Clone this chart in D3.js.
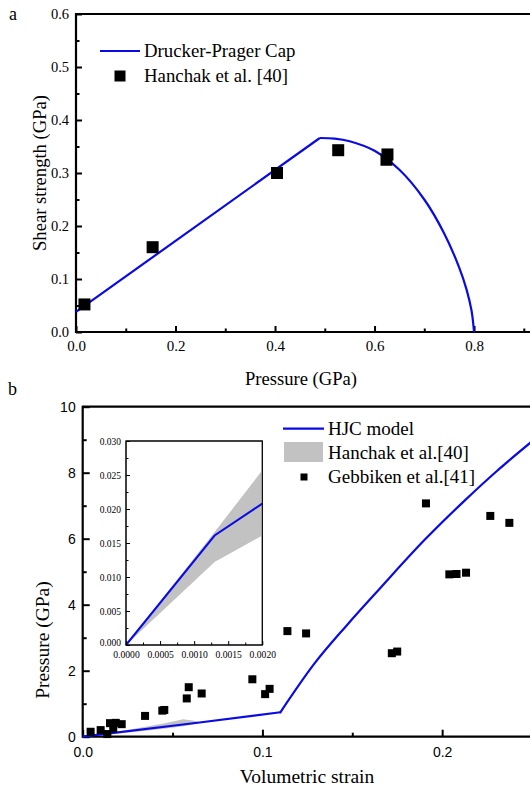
<html>
<head>
<title>Drucker-Prager / HJC</title>
<script src="https://d3js.org/d3.v7.min.js"></script>
<style>
    body { margin: 0; background: #fff; }
    svg { display: block; }
    .serif { font-family: "Liberation Serif", "Times New Roman", Times, Tinos, "DejaVu Serif", "Noto Serif", serif; }
    .sans { font-family: "Liberation Sans", Arial, Helvetica, sans-serif; }
</style>
</head>
<body>
<div id="chart"></div>
<script type="text/javascript">
    // ---- data ----
    // (a) Drucker-Prager: straight shear branch, then the elliptic cap
    var shearP = [0.0, 0.49];
    var shearQ = [0.038, 0.366];
    var capP   = [0.49, 0.52, 0.55, 0.60, 0.65, 0.70, 0.74, 0.77, 0.785, 0.795, 0.80];
    var capQ   = [0.366, 0.365, 0.360, 0.342, 0.306, 0.250, 0.186, 0.122, 0.080, 0.040, 0.0];
    var hanchakP = [0.017, 0.154, 0.404, 0.527, 0.624, 0.626];
    var hanchakQ = [0.052, 0.160, 0.300, 0.343, 0.325, 0.335];

    // (b) HJC model, volumetric strain vs pressure (GPa)
    // elastic part up to the kink, then the compaction curve
    var hjcStrain   = [0.0, 0.065, 0.110];
    var hjcPressure = [0.0, 0.43, 0.74];
    var hjcStrain2   = [0.110, 0.129, 0.147, 0.1655, 0.190, 0.2128, 0.230, 0.25];
    var hjcPressure2 = [0.74, 2.22, 3.38, 4.50, 5.95, 7.17, 8.03, 8.95];
    // Hanchak band
    var bandStrain = [0.0, 0.020, 0.035, 0.045, 0.056, 0.062, 0.066];
    var bandLow    = [0.0, 0.10, 0.18, 0.24, 0.32, 0.38, 0.43];
    var bandHigh   = [0.0, 0.16, 0.30, 0.40, 0.53, 0.48, 0.43];
    // Gebbiken points
    var gebStrain = [0.0044, 0.010, 0.0137, 0.0152, 0.0184, 0.017, 0.0217, 0.0347, 0.0443, 0.0454,
                     0.0579, 0.059, 0.0662, 0.0944, 0.1015, 0.104, 0.1139, 0.1243, 0.172, 0.175,
                     0.191, 0.204, 0.208, 0.2133, 0.2268, 0.2374];
    var gebPressure = [0.15, 0.20, 0.08, 0.41, 0.42, 0.25, 0.38, 0.63, 0.79, 0.81,
                       1.16, 1.50, 1.31, 1.74, 1.29, 1.45, 3.20, 3.13, 2.53, 2.58,
                       7.07, 4.92, 4.93, 4.97, 6.69, 6.48];

    // inset (small strain)
    var insetStrain   = [0.0, 0.0013, 0.0020];
    var insetPressure = [0.0, 0.0161, 0.0208];
    var insetLow      = [0.0, 0.0122, 0.0161];
    var insetHigh     = [0.0, 0.0166, 0.0257];

    // tick values
    var ticksAx = [0, 0.2, 0.4, 0.6, 0.8];
    var ticksAxMinor = [0.1, 0.3, 0.5, 0.7, 0.9];
    var ticksAy = [0, 0.1, 0.2, 0.3, 0.4, 0.5, 0.6];
    var ticksAyMinor = [0.05, 0.15, 0.25, 0.35, 0.45, 0.55];
    var ticksBx = [0, 0.1, 0.2];
    var ticksBxMinor = [0.05, 0.15, 0.25];
    var ticksBy = [0, 2, 4, 6, 8, 10];
    var ticksByMinor = [1, 3, 5, 7, 9];
    var ticksIx = [0, 0.0005, 0.001, 0.0015, 0.002];
    var ticksIxMinor = [0.00025, 0.00075, 0.00125, 0.00175];
    var ticksIy = [0, 0.005, 0.01, 0.015, 0.02, 0.025, 0.03];
    var ticksIyMinor = [0.0025, 0.0075, 0.0125, 0.0175, 0.0225, 0.0275];

    var BLUE = "#0a0ae6";

    var svg = d3.select("#chart").append("svg")
        .attr("width", 530)
        .attr("height", 790);

    function zip(a, b) { return a.map(function(v, i) { return [v, b[i]]; }); }

    // inward ticks (major + minor); font given as a css class
    function addAxis(g, axisFn, scale, major, minor, fmt, len, minorLen, pad, cls, size, strokeW) {
        g.append("g").call(axisFn(scale).tickValues(minor).tickFormat("").tickSizeInner(-minorLen).tickSizeOuter(0))
            .call(function(s) { s.select(".domain").remove(); s.selectAll("line").attr("stroke-width", strokeW); });
        var a = g.append("g").call(axisFn(scale).tickValues(major).tickFormat(fmt).tickSizeInner(-len).tickSizeOuter(0).tickPadding(pad));
        a.attr("font-family", null).attr("font-size", null);
        a.select(".domain").remove();
        a.selectAll("line").attr("stroke-width", strokeW);
        a.selectAll("text").attr("class", cls).style("font-size", size + "px").attr("fill", "#000");
        return a;
    }

    function label(g, x, y, txt, size, anchor, rot) {
        var t = g.append("text").attr("class", "serif").style("font-size", size + "px").text(txt);
        if (rot) t.attr("transform", "translate(" + x + "," + y + ") rotate(-90)");
        else t.attr("x", x).attr("y", y);
        if (anchor) t.attr("text-anchor", anchor);
        return t;
    }

    // ================= (a) =================
    var xA = d3.scaleLinear().domain([0, 0.9]).range([76, 523.8]);
    var yA = d3.scaleLinear().domain([0, 0.6]).range([332, 14]);

    var gA = svg.append("g");
    addAxis(gA.append("g").attr("transform", "translate(0,332)"), d3.axisBottom, xA, ticksAx, ticksAxMinor,
        d3.format(".1f"), 6, 3.5, 8, "serif", 15, 2);
    addAxis(gA.append("g").attr("transform", "translate(76,0)"), d3.axisLeft, yA, ticksAy, ticksAyMinor,
        d3.format(".1f"), 6, 3.5, 7, "serif", 14.5, 2);

    gA.append("line").attr("x1", 76).attr("x2", 530).attr("y1", 332).attr("y2", 332).attr("stroke", "#000").attr("stroke-width", 2.2);
    gA.append("line").attr("x1", 76).attr("x2", 530).attr("y1", 14).attr("y2", 14).attr("stroke", "#000").attr("stroke-width", 2.2);
    gA.append("line").attr("x1", 76).attr("x2", 76).attr("y1", 13).attr("y2", 333).attr("stroke", "#000").attr("stroke-width", 2.2);

    var lineA = d3.line().x(function(d) { return xA(d[0]); }).y(function(d) { return yA(d[1]); });
    gA.append("path")
        .datum(zip(shearP, shearQ))
        .attr("fill", "none")
        .attr("stroke", BLUE)
        .attr("stroke-width", 2.2)
        .attr("d", lineA);
    gA.append("path")
        .datum(zip(capP, capQ))
        .attr("fill", "none")
        .attr("stroke", BLUE)
        .attr("stroke-width", 2.2)
        .attr("d", lineA.curve(d3.curveCatmullRom.alpha(0.5)));

    gA.selectAll("rect.pt")
        .data(zip(hanchakP, hanchakQ))
        .enter()
        .append("rect")
        .attr("class", "pt")
        .attr("x", function(d) { return xA(d[0]) - 6; })
        .attr("y", function(d) { return yA(d[1]) - 6; })
        .attr("width", 12).attr("height", 12)
        .attr("fill", "#000");

    // legend a
    gA.append("line").attr("x1", 100).attr("x2", 140).attr("y1", 51).attr("y2", 51).attr("stroke", BLUE).attr("stroke-width", 2.2);
    label(gA, 144, 57, "Drucker-Prager Cap", 18.8);
    gA.append("rect").attr("x", 114.5).attr("y", 70.5).attr("width", 11).attr("height", 11).attr("fill", "#000");
    label(gA, 144, 82, "Hanchak et al. [40]", 18.8);

    label(gA, 9, 20, "a", 18);
    label(gA, 301, 385, "Pressure (GPa)", 18.6, "middle");
    label(gA, 46, 173, "Shear strength (GPa)", 18.6, "middle", true);

    // ================= (b) =================
    var xB = d3.scaleLinear().domain([0, 0.25]).range([82.7, 532]);
    var yB = d3.scaleLinear().domain([0, 10]).range([736.7, 406.7]);

    var gB = svg.append("g");
    addAxis(gB.append("g").attr("transform", "translate(0,736.7)"), d3.axisBottom, xB, ticksBx, ticksBxMinor,
        d3.format(".1f"), 7, 4, 10, "sans", 14, 2);
    addAxis(gB.append("g").attr("transform", "translate(82.7,0)"), d3.axisLeft, yB, ticksBy, ticksByMinor,
        d3.format("d"), 7, 4, 7, "sans", 14, 2);

    gB.append("line").attr("x1", 82.7).attr("x2", 530).attr("y1", 736.7).attr("y2", 736.7).attr("stroke", "#000").attr("stroke-width", 2.2);
    gB.append("line").attr("x1", 82.7).attr("x2", 530).attr("y1", 406.7).attr("y2", 406.7).attr("stroke", "#000").attr("stroke-width", 2.2);
    gB.append("line").attr("x1", 82.7).attr("x2", 82.7).attr("y1", 405.7).attr("y2", 737.7).attr("stroke", "#000").attr("stroke-width", 2.2);

    var areaB = d3.area()
        .x(function(d) { return xB(d[0]); })
        .y0(function(d) { return yB(d[1]); })
        .y1(function(d) { return yB(d[2]); });
    gB.append("path")
        .datum(bandStrain.map(function(s, i) { return [s, bandLow[i], bandHigh[i]]; }))
        .attr("fill", "#c2c2c2")
        .attr("d", areaB);

    var lineB = d3.line().x(function(d) { return xB(d[0]); }).y(function(d) { return yB(d[1]); });
    gB.append("path")
        .datum(zip(hjcStrain, hjcPressure))
        .attr("fill", "none")
        .attr("stroke", BLUE)
        .attr("stroke-width", 2.2)
        .attr("stroke-linejoin", "round")
        .attr("d", lineB);
    gB.append("path")
        .datum(zip(hjcStrain2, hjcPressure2))
        .attr("fill", "none")
        .attr("stroke", BLUE)
        .attr("stroke-width", 2.2)
        .attr("stroke-linecap", "round")
        .attr("d", lineB.curve(d3.curveMonotoneX));

    gB.selectAll("rect.geb")
        .data(zip(gebStrain, gebPressure))
        .enter()
        .append("rect")
        .attr("class", "geb")
        .attr("x", function(d) { return xB(d[0]) - 4; })
        .attr("y", function(d) { return yB(d[1]) - 4; })
        .attr("width", 8).attr("height", 8)
        .attr("fill", "#000");

    // legend b
    gB.append("line").attr("x1", 283).attr("x2", 324).attr("y1", 428.7).attr("y2", 428.7).attr("stroke", BLUE).attr("stroke-width", 2.2);
    label(gB, 328, 435, "HJC model", 19);
    gB.append("rect").attr("x", 284).attr("y", 442).attr("width", 39).attr("height", 20).attr("fill", "#c2c2c2");
    label(gB, 328, 459, "Hanchak et al.[40]", 19);
    gB.append("rect").attr("x", 300.5).attr("y", 473.5).attr("width", 7).attr("height", 7).attr("fill", "#000");
    label(gB, 328, 483, "Gebbiken et al.[41]", 19);

    label(gB, 8, 395, "b", 18);
    label(gB, 307, 783, "Volumetric strain", 19.5, "middle");
    label(gB, 49, 640, "Pressure (GPa)", 19.5, "middle", true);

    // ================= inset =================
    var xI = d3.scaleLinear().domain([0, 0.002]).range([126, 262.3]);
    var yI = d3.scaleLinear().domain([0, 0.03]).range([645, 441]);

    var gI = svg.append("g");
    gI.append("rect").attr("x", 126).attr("y", 441).attr("width", 136.3).attr("height", 204)
        .attr("fill", "#fff").attr("stroke", "#000").attr("stroke-width", 1);

    gI.append("path")
        .datum(insetStrain.map(function(s, i) { return [s, insetLow[i], insetHigh[i]]; }))
        .attr("fill", "#c2c2c2")
        .attr("d", d3.area()
            .x(function(d) { return xI(d[0]); })
            .y0(function(d) { return yI(d[1]); })
            .y1(function(d) { return yI(d[2]); }));

    gI.append("path")
        .datum(zip(insetStrain, insetPressure))
        .attr("fill", "none")
        .attr("stroke", BLUE)
        .attr("stroke-width", 2)
        .attr("d", d3.line().x(function(d) { return xI(d[0]); }).y(function(d) { return yI(d[1]); }));

    addAxis(gI.append("g").attr("transform", "translate(0,645)"), d3.axisBottom, xI, ticksIx, ticksIxMinor,
        d3.format(".4f"), 4, 2.5, 6, "serif", 9.6, 1);
    var iy = addAxis(gI.append("g").attr("transform", "translate(126,0)"), d3.axisLeft, yI, ticksIy, ticksIyMinor,
        d3.format(".3f"), 4, 2.5, 5, "serif", 9.5, 1);
    // lift the corner label a touch so it clears 0.0000
    iy.selectAll("text").filter(function(d) { return d === 0; }).attr("dy", "0.1em");
    gI.append("rect").attr("x", 126).attr("y", 441).attr("width", 136.3).attr("height", 204)
        .attr("fill", "none").attr("stroke", "#000").attr("stroke-width", 1);
</script>
</body>
</html>
